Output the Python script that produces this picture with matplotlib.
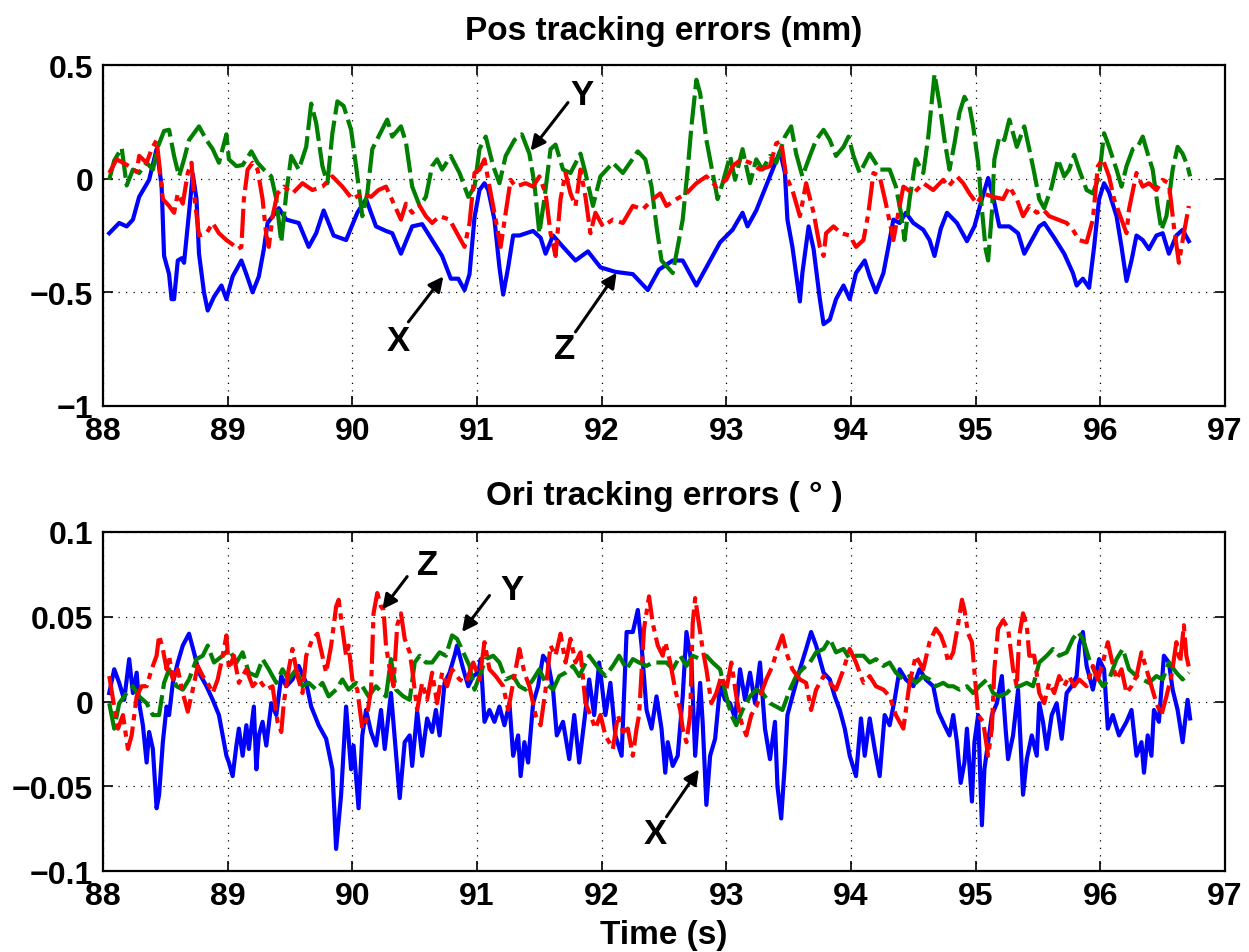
import matplotlib
matplotlib.use("Agg")
import matplotlib.pyplot as plt
import numpy as np

plt.rcParams['font.family'] = ['Liberation Sans', 'DejaVu Sans']
plt.rcParams['font.weight'] = 'bold'

# ---------------- data: position errors (mm) ----------------
pos_x_t = [88.05,88.13,88.19,88.24,88.29,88.37,88.43,88.47,88.49,88.53,88.55,88.57,88.60,88.63,88.65,88.69,88.72,88.75,88.77,88.81,
           88.84,88.89,88.95,88.99,89.04,89.11,89.15,89.20,89.25,89.29,89.32,89.41,89.47,89.57,89.65,89.71,89.77,89.85,89.95,90.04,
           90.11,90.19,90.27,90.32,90.39,90.48,90.56,90.64,90.72,90.79,90.85,90.90,90.94,90.98,91.02,91.06,91.09,91.14,91.18,91.21,
           91.25,91.29,91.34,91.45,91.51,91.55,91.61,91.69,91.79,91.89,91.99,92.11,92.25,92.37,92.46,92.57,92.65,92.76,92.87,92.95,
           93.05,93.13,93.17,93.24,93.32,93.37,93.43,93.47,93.49,93.53,93.59,93.61,93.66,93.70,93.75,93.78,93.83,93.88,93.94,93.99,
           94.04,94.11,94.15,94.20,94.26,94.30,94.34,94.39,94.44,94.50,94.58,94.63,94.67,94.72,94.77,94.85,94.93,94.99,95.05,95.10,
           95.14,95.19,95.27,95.34,95.39,95.45,95.51,95.55,95.63,95.71,95.78,95.81,95.86,95.91,95.95,95.99,96.03,96.07,96.13,96.17,
           96.21,96.25,96.29,96.34,96.39,96.45,96.50,96.55,96.61,96.66,96.71]
pos_x_v = [-0.24,-0.195,-0.21,-0.18,-0.08,-0.005,0.13,-0.03,-0.34,-0.42,-0.53,-0.53,-0.36,-0.35,-0.37,-0.15,0.02,-0.09,-0.33,-0.50,
           -0.58,-0.52,-0.47,-0.53,-0.43,-0.36,-0.42,-0.50,-0.43,-0.31,-0.195,-0.13,-0.18,-0.195,-0.30,-0.24,-0.14,-0.25,-0.27,-0.15,
           -0.09,-0.21,-0.23,-0.24,-0.33,-0.21,-0.20,-0.27,-0.34,-0.44,-0.44,-0.49,-0.42,-0.17,-0.05,-0.02,-0.05,-0.18,-0.39,-0.51,
           -0.39,-0.25,-0.25,-0.23,-0.26,-0.33,-0.25,-0.30,-0.36,-0.32,-0.39,-0.41,-0.42,-0.49,-0.40,-0.36,-0.36,-0.47,-0.36,-0.28,
           -0.225,-0.15,-0.21,-0.14,-0.03,0.04,0.12,0.025,-0.18,-0.30,-0.54,-0.415,-0.21,-0.31,-0.53,-0.64,-0.62,-0.53,-0.47,-0.53,
           -0.415,-0.36,-0.43,-0.50,-0.415,-0.30,-0.18,-0.195,-0.15,-0.195,-0.225,-0.27,-0.34,-0.22,-0.15,-0.195,-0.275,-0.21,-0.09,0.003,
           -0.08,-0.21,-0.21,-0.24,-0.33,-0.27,-0.21,-0.195,-0.26,-0.33,-0.415,-0.47,-0.44,-0.48,-0.30,-0.09,-0.02,-0.06,-0.165,-0.30,
           -0.45,-0.36,-0.25,-0.27,-0.31,-0.25,-0.24,-0.33,-0.25,-0.225,-0.275]

pos_y_t = [88.05,88.09,88.15,88.19,88.24,88.29,88.35,88.40,88.44,88.49,88.53,88.57,88.61,88.65,88.69,88.77,88.83,88.88,88.93,88.99,
           89.01,89.07,89.12,89.19,89.24,89.29,89.35,89.39,89.43,89.47,89.51,89.57,89.63,89.67,89.71,89.76,89.80,89.84,89.88,89.93,
           89.99,90.03,90.08,90.12,90.16,90.21,90.28,90.32,90.39,90.43,90.48,90.54,90.59,90.64,90.68,90.72,90.79,90.86,90.93,90.98,
           91.02,91.07,91.13,91.18,91.23,91.30,91.36,91.42,91.46,91.50,91.54,91.59,91.63,91.69,91.75,91.83,91.87,91.93,91.99,92.09,
           92.17,92.29,92.35,92.40,92.44,92.48,92.57,92.61,92.65,92.69,92.72,92.76,92.79,92.84,92.89,92.93,92.97,93.03,93.07,93.13,
           93.19,93.24,93.29,93.35,93.40,93.47,93.52,93.56,93.61,93.67,93.72,93.78,93.83,93.88,93.94,93.98,94.02,94.07,94.15,94.23,
           94.31,94.36,94.40,94.43,94.47,94.52,94.58,94.62,94.67,94.71,94.75,94.79,94.83,94.87,94.91,94.95,94.98,95.02,95.05,95.08,
           95.10,95.13,95.15,95.19,95.23,95.27,95.33,95.39,95.43,95.47,95.51,95.55,95.61,95.66,95.71,95.75,95.79,95.83,95.89,95.94,
           95.99,96.03,96.07,96.13,96.17,96.21,96.26,96.30,96.34,96.38,96.42,96.46,96.49,96.53,96.55,96.58,96.62,96.66,96.70,96.72]
pos_y_v = [-0.005,0.08,0.135,-0.03,0.04,0.025,0.07,0.04,0.14,0.21,0.215,0.10,0.01,0.085,0.17,0.23,0.17,0.13,0.07,0.195,
           0.085,0.055,0.06,0.12,0.07,0.04,0.01,-0.09,-0.28,-0.065,0.10,0.04,0.14,0.33,0.245,0.055,-0.02,0.20,0.34,0.32,
           0.215,0.055,-0.165,-0.065,0.13,0.185,0.26,0.185,0.23,0.16,-0.035,-0.12,-0.08,0.055,0.085,0.04,0.10,0.025,-0.08,-0.035,
           0.13,0.185,0.055,-0.02,0.10,0.17,0.195,0.11,-0.02,-0.24,-0.09,0.13,0.15,0.04,0.025,0.11,0.025,-0.12,0.01,0.07,
           0.025,0.12,0.085,-0.035,-0.21,-0.36,-0.415,-0.30,-0.18,0.04,0.23,0.435,0.375,0.17,0.025,-0.09,-0.02,0.10,-0.005,0.13,
           -0.02,0.085,0.04,0.10,0.07,0.185,0.23,0.11,0.01,0.10,0.17,0.215,0.17,0.10,0.14,0.185,0.10,0.025,0.11,0.04,
           0.04,-0.035,-0.15,-0.27,-0.09,0.085,0.025,0.185,0.46,0.33,0.17,0.04,0.155,0.29,0.36,0.32,0.23,0.07,-0.135,-0.31,
           -0.36,-0.15,0.085,0.185,0.17,0.26,0.14,0.23,0.13,0.025,-0.09,-0.13,-0.035,0.085,0.01,0.04,0.105,0.04,-0.05,-0.065,
           0.01,0.20,0.14,0.04,-0.035,0.055,0.13,0.14,0.185,0.11,0.04,-0.12,-0.225,-0.165,-0.09,0.04,0.14,0.11,0.055,0.01]

pos_z_t = [88.05,88.11,88.16,88.21,88.27,88.29,88.35,88.39,88.43,88.45,88.48,88.53,88.57,88.60,88.64,88.68,88.71,88.73,88.77,88.83,
           88.88,88.93,88.99,89.04,89.08,89.11,89.13,89.16,89.20,89.24,89.28,89.31,89.33,89.36,89.40,89.45,89.52,89.60,89.68,89.76,
           89.84,89.92,90.00,90.08,90.15,90.21,90.27,90.34,90.39,90.43,90.48,90.54,90.59,90.64,90.70,90.78,90.85,90.90,90.94,90.98,
           91.02,91.06,91.10,91.15,91.19,91.23,91.27,91.31,91.39,91.45,91.50,91.55,91.59,91.63,91.67,91.71,91.75,91.79,91.83,91.87,
           91.91,91.95,92.01,92.09,92.17,92.25,92.33,92.41,92.47,92.52,92.60,92.68,92.76,92.84,92.92,93.00,93.05,93.12,93.19,93.27,
           93.35,93.40,93.44,93.48,93.53,93.59,93.64,93.70,93.75,93.78,93.80,93.86,93.92,93.99,94.04,94.10,94.14,94.18,94.23,94.28,
           94.34,94.38,94.42,94.50,94.58,94.66,94.74,94.78,94.85,94.90,94.95,95.01,95.06,95.14,95.22,95.27,95.33,95.38,95.43,95.49,
           95.54,95.59,95.66,95.73,95.78,95.83,95.89,95.94,95.98,96.02,96.07,96.11,96.17,96.21,96.23,96.29,96.34,96.39,96.45,96.50,
           96.55,96.59,96.63,96.67,96.71]
pos_z_v = [0.025,0.085,0.07,0.055,0.03,0.10,0.07,0.13,0.17,0.07,-0.09,-0.12,-0.15,-0.065,-0.11,0.025,0.07,-0.065,-0.25,-0.24,
           -0.195,-0.24,-0.27,-0.29,-0.31,-0.30,-0.09,0.04,0.07,0.04,-0.09,-0.25,-0.30,-0.165,-0.065,-0.035,-0.065,-0.02,-0.05,-0.035,
           0.01,-0.035,-0.09,-0.065,-0.08,-0.05,-0.035,-0.12,-0.18,-0.11,-0.15,-0.12,-0.165,-0.195,-0.165,-0.18,-0.25,-0.30,-0.195,0.025,
           0.04,0.085,-0.035,-0.18,-0.30,-0.15,-0.005,-0.035,-0.02,-0.035,0.01,-0.065,-0.24,-0.34,-0.09,0.025,-0.065,-0.12,0.04,-0.08,
           -0.24,-0.15,-0.21,-0.18,-0.195,-0.12,-0.135,-0.09,-0.065,-0.12,-0.09,-0.065,-0.02,0.01,-0.035,-0.005,0.055,0.085,0.07,0.04,
           0.055,0.155,0.165,0.01,-0.05,-0.165,-0.02,-0.15,-0.30,-0.34,-0.24,-0.21,-0.24,-0.25,-0.30,-0.27,-0.15,0.025,0.01,-0.11,
           -0.27,-0.15,-0.035,-0.065,-0.02,-0.05,-0.005,-0.035,0.01,-0.02,-0.065,-0.11,-0.065,-0.08,-0.09,-0.035,-0.09,-0.165,-0.12,-0.15,
           -0.135,-0.165,-0.18,-0.195,-0.225,-0.27,-0.28,-0.18,0.055,0.085,0.01,-0.09,-0.18,-0.24,-0.135,0.025,-0.035,-0.02,-0.05,-0.005,
           -0.02,-0.21,-0.37,-0.24,-0.12]

# ---------------- data: orientation errors (deg) ----------------
ori_x_t = [88.05,88.09,88.13,88.17,88.21,88.24,88.27,88.29,88.32,88.35,88.37,88.40,88.43,88.45,88.48,88.51,88.53,88.56,88.60,88.64,
           88.69,88.73,88.77,88.83,88.88,88.93,88.99,89.01,89.04,89.07,89.09,89.12,89.15,89.17,89.21,89.23,89.25,89.28,89.31,89.35,
           89.39,89.43,89.47,89.52,89.57,89.63,89.67,89.73,89.79,89.84,89.87,89.91,89.95,89.99,90.01,90.05,90.08,90.11,90.15,90.19,
           90.23,90.26,90.31,90.38,90.42,90.46,90.48,90.52,90.56,90.60,90.64,90.67,90.70,90.74,90.78,90.82,90.84,90.89,90.93,90.97,
           91.01,91.03,91.06,91.10,91.14,91.18,91.22,91.26,91.29,91.33,91.35,91.38,91.41,91.45,91.49,91.53,91.57,91.61,91.64,91.69,
           91.74,91.78,91.82,91.86,91.90,91.94,91.98,92.03,92.07,92.11,92.16,92.20,92.25,92.29,92.32,92.36,92.40,92.44,92.48,92.51,
           92.53,92.57,92.61,92.65,92.68,92.72,92.75,92.79,92.81,92.84,92.87,92.91,92.95,92.99,93.03,93.07,93.11,93.15,93.19,93.23,
           93.27,93.31,93.35,93.39,93.41,93.44,93.47,93.49,93.53,93.59,93.64,93.68,93.72,93.78,93.83,93.87,93.91,93.95,93.99,94.04,
           94.08,94.11,94.15,94.19,94.23,94.27,94.31,94.35,94.39,94.44,94.50,94.55,94.60,94.66,94.70,94.75,94.79,94.82,94.85,94.88,
           94.91,94.93,94.97,94.99,95.02,95.05,95.07,95.10,95.13,95.17,95.21,95.24,95.26,95.30,95.34,95.38,95.41,95.45,95.49,95.51,
           95.54,95.57,95.61,95.65,95.69,95.73,95.77,95.81,95.83,95.86,95.89,95.94,95.99,96.03,96.06,96.10,96.15,96.21,96.25,96.29,
           96.33,96.35,96.38,96.41,96.43,96.47,96.51,96.55,96.58,96.62,96.66,96.70,96.72]
ori_x_v = [0.005,0.019,0.011,0.001,0.025,0.005,0.017,-0.001,-0.014,-0.036,-0.018,-0.028,-0.063,-0.055,-0.024,-0.003,-0.008,0.011,0.023,0.033,
           0.040,0.029,0.017,0.009,0.001,-0.008,-0.032,-0.036,-0.044,-0.026,-0.016,-0.032,-0.014,-0.028,-0.003,-0.040,-0.020,-0.012,-0.026,-0.001,
           -0.008,0.015,0.009,0.013,0.021,0.011,-0.003,-0.014,-0.022,-0.040,-0.087,-0.055,-0.003,-0.040,-0.026,-0.063,-0.020,-0.005,-0.018,-0.026,
           -0.005,-0.028,0.005,-0.057,-0.024,-0.020,-0.038,-0.006,-0.032,-0.010,-0.018,-0.005,-0.020,0.011,0.017,0.027,0.033,0.019,0.009,0.015,
           0.017,0.025,-0.012,-0.005,-0.012,-0.003,-0.014,-0.001,-0.032,-0.020,-0.044,-0.024,-0.036,-0.001,0.009,0.027,0.023,0.007,-0.020,-0.012,
           -0.034,-0.008,-0.036,-0.012,0.013,-0.008,0.023,-0.008,0.011,-0.020,-0.032,0.041,0.041,0.054,0.033,-0.005,-0.016,0.003,-0.016,-0.042,
           -0.024,-0.038,-0.032,0.003,0.041,0.023,-0.032,0.011,-0.012,-0.061,-0.032,-0.022,0.009,0.001,-0.001,-0.010,0.019,0.001,0.017,-0.001,
           0.023,-0.016,-0.034,-0.012,-0.050,-0.069,-0.036,-0.008,0.003,0.019,0.031,0.041,0.033,0.017,0.013,0.003,-0.005,-0.016,-0.032,-0.044,
           -0.010,-0.032,-0.010,-0.028,-0.044,-0.008,-0.014,0.001,0.019,0.013,0.009,0.019,0.013,0.009,-0.006,-0.014,-0.020,-0.008,-0.024,-0.048,
           -0.036,-0.016,-0.059,-0.024,-0.008,-0.073,-0.040,-0.024,-0.008,-0.001,0.015,-0.016,-0.034,-0.020,0.007,-0.055,-0.034,-0.020,-0.032,-0.001,
           -0.012,-0.028,-0.008,-0.001,-0.022,0.005,0.009,0.015,0.033,0.041,0.021,0.007,0.025,0.019,-0.016,-0.008,-0.020,-0.012,-0.005,-0.032,
           -0.024,-0.042,-0.020,-0.032,-0.005,-0.012,0.027,0.023,0.007,-0.005,-0.024,0.001,-0.010]

ori_y_t = [88.05,88.09,88.13,88.19,88.24,88.29,88.35,88.40,88.45,88.49,88.53,88.59,88.64,88.69,88.75,88.80,88.84,88.89,88.96,89.01,
           89.07,89.12,89.17,89.23,89.28,89.33,89.39,89.44,89.49,89.55,89.60,89.65,89.71,89.76,89.81,89.87,89.92,89.97,90.03,90.08,
           90.13,90.19,90.24,90.27,90.31,90.35,90.41,90.46,90.50,90.54,90.59,90.64,90.70,90.75,90.80,90.84,90.89,90.94,90.98,91.02,
           91.07,91.13,91.18,91.23,91.29,91.34,91.39,91.45,91.50,91.55,91.61,91.66,91.71,91.77,91.82,91.90,91.98,92.03,92.09,92.14,
           92.20,92.25,92.30,92.36,92.41,92.46,92.52,92.57,92.63,92.68,92.73,92.79,92.84,92.89,92.95,93.00,93.04,93.08,93.13,93.19,
           93.24,93.29,93.35,93.40,93.45,93.51,93.56,93.61,93.67,93.72,93.78,93.83,93.88,93.94,93.99,94.04,94.10,94.15,94.20,94.26,
           94.31,94.36,94.42,94.47,94.52,94.58,94.63,94.68,94.74,94.78,94.82,94.87,94.93,94.98,95.03,95.09,95.14,95.19,95.25,95.30,
           95.35,95.41,95.46,95.51,95.57,95.62,95.67,95.73,95.78,95.82,95.86,95.91,95.97,96.02,96.07,96.13,96.18,96.23,96.29,96.34,
           96.39,96.45,96.50,96.55,96.61,96.66,96.71]
ori_y_v = [-0.001,-0.016,-0.001,0.005,0.009,0.003,-0.001,-0.008,-0.008,0.011,0.019,0.009,0.007,0.013,0.025,0.027,0.033,0.023,0.027,0.031,
           0.023,0.029,0.017,0.015,0.025,0.019,0.011,0.019,0.013,0.019,0.009,0.011,0.007,0.011,0.003,0.007,0.013,0.007,0.011,0.009,
           0.003,0.009,0.005,0.003,0.025,0.007,0.003,0.001,0.023,0.027,0.023,0.023,0.029,0.027,0.039,0.037,0.029,0.021,0.007,0.015,
           0.025,0.027,0.023,0.013,0.015,0.009,0.007,0.013,0.019,0.011,0.007,0.015,0.017,0.021,0.015,0.027,0.019,0.015,0.021,0.027,
           0.019,0.025,0.023,0.021,0.023,0.023,0.023,0.019,0.027,0.021,0.027,0.025,0.027,0.023,0.019,0.003,-0.008,-0.014,-0.005,0.003,
           0.007,0.005,-0.001,-0.003,-0.005,0.007,0.015,0.019,0.023,0.029,0.031,0.037,0.029,0.031,0.025,0.027,0.027,0.023,0.025,0.021,
           0.023,0.017,0.013,0.015,0.011,0.015,0.013,0.009,0.011,0.009,0.009,0.007,0.009,0.005,0.009,0.013,0.005,0.003,0.005,0.009,
           0.009,0.011,0.009,0.023,0.027,0.031,0.027,0.029,0.037,0.041,0.037,0.025,0.015,0.009,0.013,0.025,0.031,0.019,0.015,0.013,
           0.011,0.015,0.013,0.023,0.017,0.013,0.017]

ori_z_t = [88.05,88.09,88.12,88.16,88.20,88.23,88.27,88.31,88.35,88.39,88.43,88.45,88.48,88.51,88.53,88.56,88.60,88.64,88.68,88.72,
           88.76,88.80,88.84,88.88,88.92,88.96,88.99,89.01,89.05,89.09,89.15,89.20,89.25,89.31,89.36,89.40,89.43,89.45,89.49,89.52,
           89.56,89.60,89.63,89.68,89.72,89.76,89.79,89.83,89.87,89.89,89.92,89.95,89.97,90.00,90.04,90.08,90.11,90.15,90.17,90.20,
           90.23,90.25,90.27,90.30,90.33,90.36,90.39,90.42,90.46,90.48,90.52,90.56,90.60,90.64,90.68,90.72,90.76,90.80,90.86,90.91,
           90.97,91.02,91.06,91.10,91.15,91.21,91.25,91.29,91.34,91.38,91.42,91.47,91.51,91.55,91.59,91.63,91.67,91.71,91.75,91.79,
           91.83,91.87,91.91,91.95,91.99,92.03,92.09,92.13,92.17,92.21,92.25,92.28,92.30,92.34,92.38,92.41,92.45,92.49,92.51,92.55,
           92.59,92.63,92.65,92.68,92.71,92.73,92.75,92.78,92.81,92.84,92.88,92.92,92.96,93.00,93.04,93.08,93.12,93.16,93.20,93.24,
           93.28,93.32,93.37,93.41,93.45,93.49,93.53,93.59,93.64,93.68,93.72,93.78,93.83,93.88,93.94,93.99,94.04,94.10,94.15,94.20,
           94.26,94.31,94.36,94.42,94.47,94.52,94.58,94.63,94.68,94.72,94.75,94.78,94.82,94.86,94.89,94.91,94.94,94.97,95.00,95.02,
           95.06,95.10,95.13,95.15,95.18,95.22,95.26,95.30,95.33,95.35,95.38,95.41,95.43,95.47,95.51,95.55,95.59,95.63,95.67,95.71,
           95.75,95.79,95.83,95.89,95.94,95.98,96.02,96.06,96.09,96.13,96.17,96.21,96.25,96.29,96.33,96.37,96.41,96.45,96.49,96.53,
           96.57,96.61,96.64,96.67,96.69,96.72]
ori_z_v = [0.015,-0.003,-0.016,-0.008,-0.028,-0.020,0.003,0.009,0.009,0.019,0.027,0.039,0.031,0.019,0.027,0.013,0.019,0.005,-0.006,0.007,
           0.021,0.015,0.011,0.005,0.013,0.027,0.039,0.019,0.027,0.011,0.019,0.009,0.013,0.007,0.009,-0.012,-0.018,-0.001,0.019,0.031,
           0.015,0.005,0.027,0.037,0.040,0.027,0.017,0.033,0.056,0.060,0.043,0.027,0.033,0.013,0.007,-0.016,-0.012,0.007,0.052,0.064,
           0.056,0.054,0.033,0.019,0.009,0.045,0.052,0.037,0.029,0.019,-0.005,0.011,0.001,0.017,-0.001,0.017,0.009,0.019,0.013,0.011,
           0.023,0.013,0.035,0.019,0.015,0.009,-0.005,0.011,0.031,0.017,0.009,-0.008,-0.014,0.007,0.033,0.027,0.040,0.023,0.037,0.023,
           0.029,-0.001,-0.008,-0.016,-0.008,-0.020,-0.028,-0.008,-0.018,-0.016,-0.032,-0.016,-0.008,0.043,0.062,0.046,0.033,0.027,0.035,0.023,
           0.007,-0.005,-0.016,-0.024,-0.008,0.046,0.061,0.046,0.031,0.019,-0.001,0.005,0.015,0.007,0.023,0.003,-0.012,-0.020,-0.008,-0.003,
           0.005,0.013,0.021,0.031,0.039,0.027,0.019,0.013,0.011,-0.005,0.007,0.015,0.011,0.007,0.019,0.031,0.023,0.011,0.015,0.009,
           0.007,0.003,-0.008,-0.016,0.011,0.027,0.019,0.035,0.043,0.039,0.033,0.023,0.029,0.046,0.060,0.054,0.040,0.035,0.009,-0.008,
           -0.012,-0.032,-0.016,0.019,0.043,0.048,0.043,0.019,0.009,0.039,0.052,0.045,0.027,0.027,0.005,-0.001,0.011,0.005,0.015,0.009,
           0.015,0.009,0.013,0.009,0.021,0.013,0.023,0.035,0.025,0.013,0.019,0.005,0.009,0.015,0.029,0.019,0.009,-0.001,-0.008,0.003,
           0.015,0.035,0.023,0.045,0.027,0.017]

# ---------------- axis / tick text ----------------
x_ticks = [88, 89, 90, 91, 92, 93, 94, 95, 96, 97]
x_ticklabels = ['88', '89', '90', '91', '92', '93', '94', '95', '96', '97']
pos_yticks = [-1, -0.5, 0, 0.5]
pos_yticklabels = ['\u22121', '\u22120.5', '0', '0.5']
ori_yticks = [-0.1, -0.05, 0, 0.05, 0.1]
ori_yticklabels = ['\u22120.1', '\u22120.05', '0', '0.05', '0.1']
title_pos = 'Pos tracking errors (mm)'
title_ori = 'Ori tracking errors ( \u00b0 )'
xlabel = 'Time (s)'

# ---------------- figure ----------------
fig = plt.figure(figsize=(12.49, 9.53), dpi=100)
ax1 = fig.add_axes([103 / 1249, 1 - 407 / 953, 1122 / 1249, 341 / 953])
ax2 = fig.add_axes([103 / 1249, 1 - 872 / 953, 1122 / 1249, 339 / 953])

blue = '#0000ff'
green = '#007f00'
red = '#ff0000'
lw = 3.0

def style(ax, yticks, ylabels, ylim):
    ax.set_xlim(88, 97)
    ax.set_ylim(*ylim)
    ax.set_xticks(x_ticks)
    ax.set_xticklabels(x_ticklabels)
    ax.set_yticks(yticks)
    ax.set_yticklabels(ylabels)
    ax.tick_params(direction='in', length=7, width=1.2, top=True, right=True,
                   labelsize=23, pad=7)
    for lab in ax.get_xticklabels() + ax.get_yticklabels():
        lab.set_fontweight('bold')
    ax.grid(True, color='k', linestyle=(0, (1, 5)), linewidth=0.9)
    for s in ax.spines.values():
        s.set_linewidth(1.6)

ax1.plot(pos_x_t, pos_x_v, color=blue, lw=lw, solid_joinstyle='round')
ax1.plot(pos_y_t, pos_y_v, color=green, lw=lw, linestyle=(0, (7, 1.5)))
ax1.plot(pos_z_t, pos_z_v, color=red, lw=lw, linestyle=(0, (7, 1.5, 1.5, 1.5)))
style(ax1, pos_yticks, pos_yticklabels, (-1, 0.5))
ax1.set_title(title_pos, fontsize=24, fontweight='bold', pad=19)

ax2.plot(ori_x_t, ori_x_v, color=blue, lw=lw, solid_joinstyle='round')
ax2.plot(ori_y_t, ori_y_v, color=green, lw=lw, linestyle=(0, (7, 1.5)))
ax2.plot(ori_z_t, ori_z_v, color=red, lw=lw, linestyle=(0, (7, 1.5, 1.5, 1.5)))
style(ax2, ori_yticks, ori_yticklabels, (-0.1, 0.1))
ax2.set_title(title_ori, fontsize=24, fontweight='bold', pad=20)
ax2.set_xlabel(xlabel, fontsize=24, fontweight='bold', labelpad=6)

arrow = dict(arrowstyle='-|>', color='k', lw=2.2, mutation_scale=22, shrinkA=0, shrinkB=0)
tkw = dict(fontsize=25, fontweight='bold', ha='center', va='center')

# top annotations
ax1.annotate('', xy=(91.43, 0.123), xytext=(91.73, 0.335), arrowprops=arrow)
ax1.text(91.84, 0.37, 'Y', **tkw)
ax1.annotate('', xy=(90.73, -0.43), xytext=(90.45, -0.63), arrowprops=arrow)
ax1.text(90.365, -0.71, 'X', **tkw)
ax1.annotate('', xy=(92.12, -0.414), xytext=(91.79, -0.674), arrowprops=arrow)
ax1.text(91.70, -0.745, 'Z', **tkw)

# bottom annotations
ax2.annotate('', xy=(90.24, 0.0543), xytext=(90.44, 0.0737), arrowprops=arrow)
ax2.text(90.60, 0.081, 'Z', **tkw)
ax2.annotate('', xy=(90.88, 0.041), xytext=(91.10, 0.0625), arrowprops=arrow)
ax2.text(91.28, 0.066, 'Y', **tkw)
ax2.annotate('', xy=(92.78, -0.040), xytext=(92.52, -0.068), arrowprops=arrow)
ax2.text(92.43, -0.078, 'X', **tkw)

fig.savefig('out.png', dpi=100)
